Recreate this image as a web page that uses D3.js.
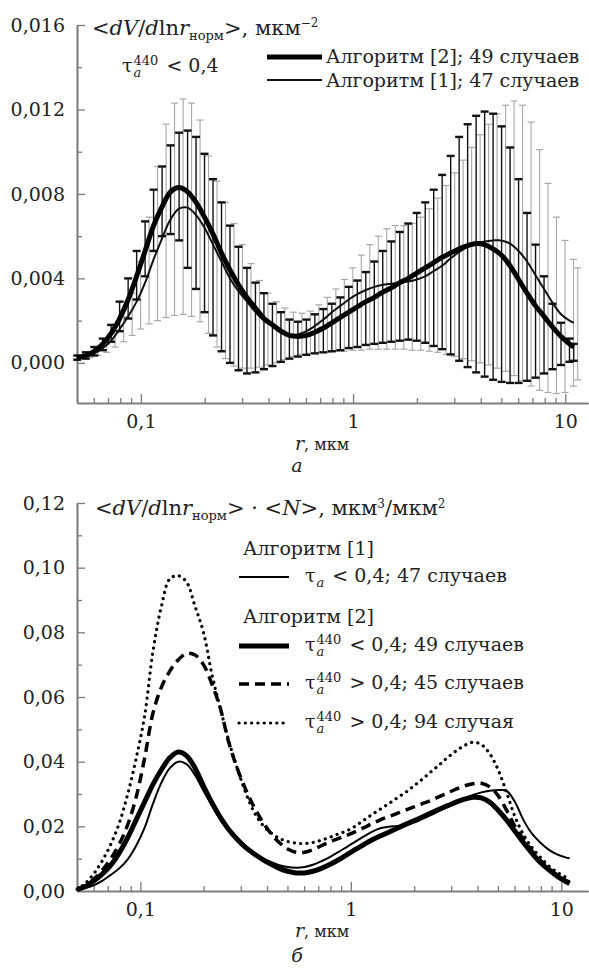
<!DOCTYPE html>
<html>
<head>
<meta charset="utf-8">
<script src="https://cdn.jsdelivr.net/npm/d3@7"></script>
<style>
  body { margin: 0; background: #fff; }
  svg text { font-family: "DejaVu Serif", serif; font-size: 19px; fill: #222; }
</style>
</head>
<body>
<script>
// size distributions, two panels, log x

// radius grid, мкм (same for every series)
var radius = [0.0501,0.0550,0.0603,0.0661,0.0724,0.0794,0.0871,0.0955,0.1047,0.1148,
  0.1259,0.1380,0.1514,0.1660,0.1820,0.1995,0.2188,0.2399,0.2630,0.2884,
  0.3162,0.3467,0.3802,0.4169,0.4571,0.5012,0.5495,0.6026,0.6607,0.7244,
  0.7943,0.8710,0.9550,1.047,1.148,1.259,1.380,1.514,1.660,1.820,
  1.995,2.188,2.399,2.630,2.884,3.162,3.467,3.802,4.169,4.571,
  5.012,5.495,6.026,6.607,7.244,7.943,8.710,9.550,10.47,10.96];

// panel a: <dV/dlnr_норм>, мкм^-2 -- mean and error bar ends
var alg2Mean = [0.00025,0.00035,0.00055,0.0009,0.0014,0.0021,0.003,0.0041,0.0053,0.0065,
  0.0074,0.0081,0.0083,0.0081,0.0076,0.0069,0.0061,0.0052,0.0044,0.0037,
  0.0031,0.0026,0.0021,0.0018,0.0015,0.0013,0.00125,0.0013,0.00145,0.00165,
  0.0019,0.00215,0.0024,0.00265,0.0029,0.0031,0.00335,0.00355,0.0038,0.004,
  0.00425,0.0045,0.00475,0.005,0.0052,0.0054,0.00555,0.00565,0.0056,0.0054,
  0.0051,0.0046,0.00395,0.0033,0.0027,0.0022,0.0017,0.00125,0.0009,0.00075];
var alg2Up = [0.00035,0.0005,0.00075,0.00115,0.0018,0.0029,0.004,0.0053,0.0067,0.0082,
  0.0093,0.0103,0.0109,0.011,0.0107,0.0099,0.0087,0.0076,0.0065,0.0055,
  0.0045,0.0038,0.0033,0.0028,0.0024,0.00205,0.00195,0.00205,0.0023,0.00255,
  0.0028,0.0031,0.0036,0.0039,0.0043,0.0048,0.0053,0.00575,0.0062,0.0066,
  0.0071,0.0076,0.0082,0.0089,0.0098,0.0107,0.0113,0.0117,0.0119,0.0118,
  0.0112,0.0102,0.0087,0.0071,0.0056,0.0041,0.0028,0.0019,0.00115,0.0009];
var alg2Low = [0.00015,0.0002,0.00035,0.0006,0.001,0.0015,0.0021,0.003,0.0041,0.0053,
  0.006,0.0061,0.0058,0.0045,0.0035,0.0024,0.0013,0.00055,0.0,-0.00035,
  -0.0005,-0.00045,-0.0003,-0.00015,0.00005,0.0002,0.0003,0.00038,0.00045,0.0005,
  0.00055,0.0006,0.0007,0.00075,0.00085,0.0009,0.00095,0.001,0.00105,0.0011,
  0.00105,0.00095,0.0008,0.00065,0.0004,0.0001,-0.0002,-0.00045,-0.00065,-0.0008,
  -0.0009,-0.00095,-0.00095,-0.00085,-0.0007,-0.0005,-0.0003,-0.0001,0.00005,0.0001];
var alg1Mean = [0.00024,0.0003,0.00045,0.0007,0.00105,0.0016,0.0022,0.0029,0.0038,0.0049,
  0.0059,0.0068,0.0073,0.00735,0.007,0.0064,0.0056,0.0048,0.004,0.0034,
  0.0029,0.0024,0.002,0.00175,0.0015,0.00135,0.00135,0.0015,0.00175,0.00205,
  0.0024,0.0027,0.003,0.00325,0.00345,0.0036,0.0037,0.00375,0.0038,0.00385,
  0.00395,0.0041,0.00435,0.0046,0.00495,0.00525,0.0055,0.00565,0.00575,0.0058,
  0.0058,0.00565,0.0053,0.0048,0.00415,0.0035,0.00285,0.0023,0.002,0.0019];
var alg1Up = [0.0003,0.0004,0.0006,0.0009,0.0014,0.0022,0.0033,0.0048,0.0069,0.0093,
  0.0113,0.0123,0.0125,0.0123,0.0115,0.0098,0.0086,0.0076,0.0066,0.0056,
  0.0047,0.0039,0.0033,0.0029,0.0026,0.0024,0.00235,0.00245,0.00275,0.0031,
  0.0035,0.00395,0.0045,0.0051,0.0056,0.006,0.00635,0.0065,0.0065,0.0066,
  0.0069,0.0073,0.0078,0.0084,0.009,0.0096,0.0102,0.0108,0.0113,0.0118,
  0.0122,0.0124,0.0122,0.0114,0.0101,0.0085,0.0069,0.0058,0.0049,0.0045];
var alg1Low = [0.0002,0.00025,0.00035,0.0005,0.00075,0.001,0.0013,0.0016,0.00185,0.002,
  0.00215,0.00225,0.0023,0.0022,0.00195,0.0014,0.00075,0.0002,-0.00015,-0.00025,
  -0.00025,-0.0002,-0.0001,0.0,0.00015,0.0003,0.0004,0.00045,0.0005,0.0005,
  0.00055,0.00055,0.0006,0.0006,0.00065,0.00065,0.00065,0.00065,0.00065,0.0006,
  0.0006,0.00055,0.0005,0.0004,0.0003,0.0002,0.0001,0.0,-0.0001,-0.00025,
  -0.0004,-0.0006,-0.00085,-0.0011,-0.0013,-0.0014,-0.00145,-0.0014,-0.0011,-0.0008];

// panel b: <dV/dlnr_норм>·<N>, мкм3/мкм2
var nAlg1 = [0.0003,0.0009,0.0018,0.0032,0.005,0.007,0.0098,0.014,0.0195,0.027,
  0.0335,0.038,0.04,0.0392,0.0358,0.031,0.0265,0.022,0.0185,0.0156,
  0.0133,0.0116,0.0102,0.009,0.008,0.0074,0.0072,0.0074,0.0081,0.0092,
  0.0105,0.012,0.0136,0.0152,0.0168,0.0183,0.0194,0.0199,0.0201,0.0205,
  0.0212,0.0223,0.0235,0.0248,0.0261,0.0274,0.0286,0.0297,0.0305,0.031,
  0.0312,0.031,0.0275,0.022,0.0178,0.015,0.0128,0.0113,0.0104,0.0101];
var nAlg2Low = [0.0005,0.0015,0.0032,0.0053,0.008,0.0118,0.0165,0.022,0.0275,0.033,
  0.0375,0.0412,0.043,0.0418,0.038,0.0325,0.0273,0.0228,0.019,0.016,
  0.0135,0.0115,0.0098,0.0083,0.007,0.0061,0.0056,0.0056,0.0061,0.007,
  0.0082,0.0096,0.0112,0.0128,0.0143,0.0158,0.017,0.0182,0.0194,0.0206,
  0.0217,0.0229,0.0241,0.0253,0.0264,0.0275,0.0284,0.029,0.0288,0.0275,
  0.025,0.022,0.0185,0.015,0.0118,0.0089,0.0066,0.0046,0.003,0.0023];
var nAlg2High45 = [0.0004,0.0015,0.0038,0.0065,0.01,0.0145,0.0205,0.029,0.041,0.055,
  0.063,0.068,0.0715,0.0735,0.073,0.07,0.064,0.0565,0.046,0.038,
  0.0315,0.026,0.0215,0.0178,0.015,0.013,0.012,0.012,0.0128,0.014,
  0.0152,0.0162,0.0172,0.0183,0.0195,0.0208,0.022,0.023,0.024,0.025,
  0.026,0.027,0.028,0.0292,0.0303,0.0315,0.0325,0.0332,0.0333,0.0322,
  0.0295,0.025,0.02,0.016,0.0125,0.0095,0.007,0.005,0.0033,0.0028];
var nAlg2High94 = [0.0005,0.0025,0.0055,0.0095,0.0145,0.021,0.03,0.041,0.054,0.074,
  0.088,0.0965,0.0975,0.0955,0.088,0.08,0.067,0.0565,0.0465,0.038,
  0.0305,0.0245,0.0205,0.018,0.0163,0.0153,0.0148,0.0147,0.015,0.0157,
  0.0166,0.0176,0.0186,0.02,0.0218,0.0236,0.0253,0.027,0.0288,0.0305,
  0.0325,0.0346,0.0368,0.039,0.0413,0.0433,0.045,0.046,0.0453,0.0425,
  0.0375,0.0305,0.023,0.0175,0.0135,0.0105,0.0078,0.0058,0.0043,0.0038];

var xTicks = [0.1, 1, 10],
    xTickLabels = ["0,1", "1", "10"];
var yTicksA = [0, 0.004, 0.008, 0.012, 0.016],
    yMinorA = [0.002, 0.006, 0.010, 0.014];
var yTicksB = [0, 0.02, 0.04, 0.06, 0.08, 0.10, 0.12],
    yMinorB = [0.01, 0.03, 0.05, 0.07, 0.09, 0.11];

var ru = d3.formatLocale({decimal: ",", thousands: "\u00a0", grouping: [3], currency: ["", ""]});
var NB = "\u00a0"; // svg eats leading plain spaces

var svg = d3.select("body").append("svg")
    .attr("width", 589)
    .attr("height", 978);

var xA = d3.scaleLog().domain([0.05, 12.8]).range([77, 588]),
    yA = d3.scaleLinear().domain([-0.0019, 0.016]).range([403, 25]);
var xB = d3.scaleLog().domain([0.05, 13.4]).range([77, 588]),
    yB = d3.scaleLinear().domain([0, 0.12]).range([891, 503]);

function axes(x, y, yMajor, yMinor, yFormat) {
  var base = y.range()[0];
  var minorX = x.ticks().filter(function(d) {
    return xTicks.indexOf(d) < 0 && d > x.domain()[0] * 1.01;
  });
  // ticks point inward, like the original
  svg.append("g").attr("color", "#7a7a7a")
      .attr("transform", "translate(0," + base + ")")
      .call(d3.axisBottom(x).tickValues(minorX).tickSize(-5).tickSizeOuter(0).tickFormat(""));
  svg.append("g").attr("color", "#7a7a7a")
      .attr("transform", "translate(0," + base + ")")
      .call(d3.axisBottom(x).tickValues(xTicks).tickSize(-9).tickSizeOuter(0).tickPadding(12)
        .tickFormat(function(d, i) { return xTickLabels[i]; }));
  svg.append("g").attr("color", "#7a7a7a")
      .attr("transform", "translate(77,0)")
      .call(d3.axisLeft(y).tickValues(yMinor).tickSize(-5).tickSizeOuter(0).tickFormat(""));
  svg.append("g").attr("color", "#7a7a7a")
      .attr("transform", "translate(77,0)")
      .call(d3.axisLeft(y).tickValues(yMajor).tickSize(-8).tickSizeOuter(0).tickPadding(12)
        .tickFormat(ru.format(yFormat)));
  svg.selectAll(".domain").attr("stroke-width", 1.6);
  svg.selectAll(".tick line").attr("stroke-width", 1.3);
}

function curve(x, y, vals) {
  return d3.line()
    .x(function(d, i) { return x(radius[i]); })
    .y(function(d) { return y(d); })
    .curve(d3.curveCatmullRom)(vals);
}

function errorBars(x, y, lo, hi, dx, color, w, capW, capH) {
  var g = svg.append("g").attr("stroke", color);
  g.selectAll("line.v").data(radius).join("line")
      .attr("x1", function(d) { return x(d) + dx; })
      .attr("x2", function(d) { return x(d) + dx; })
      .attr("y1", function(d, i) { return y(lo[i]); })
      .attr("y2", function(d, i) { return y(hi[i]); })
      .attr("stroke-width", w);
  [lo, hi].forEach(function(ends) {
    g.append("g").selectAll("line").data(radius).join("line")
        .attr("x1", function(d) { return x(d) + dx - capW / 2; })
        .attr("x2", function(d) { return x(d) + dx + capW / 2; })
        .attr("y1", function(d, i) { return y(ends[i]); })
        .attr("y2", function(d, i) { return y(ends[i]); })
        .attr("stroke-width", capH);
  });
}

// tau with sub a (and maybe sup 440), then the rest of the label
function tauLabel(x, y, sup, rest) {
  var t = svg.append("text").attr("x", x).attr("y", y).text("τ");
  var w = t.node().getComputedTextLength() + 1;
  var s1 = svg.append("text").attr("x", x + w).attr("y", y + 5)
      .style("font-size", "13px").style("font-style", "italic").text("a");
  var w2 = s1.node().getComputedTextLength();
  if (sup) {
    var s2 = svg.append("text").attr("x", x + w).attr("y", y - 7)
        .style("font-size", "13px").text(sup);
    w2 = Math.max(w2, s2.node().getComputedTextLength());
  }
  svg.append("text").attr("x", x + w + w2 + 2).attr("y", y).text(NB + rest);
}

function sizeTitle(x, y, tail) {
  var t = svg.append("text").attr("x", x).attr("y", y).style("font-size", "21px");
  t.append("tspan").text("<");
  t.append("tspan").style("font-style", "italic").text("dV");
  t.append("tspan").text("/");
  t.append("tspan").style("font-style", "italic").text("d");
  t.append("tspan").text("ln");
  t.append("tspan").style("font-style", "italic").text("r");
  t.append("tspan").attr("dy", 5).style("font-size", "13px").text("норм");
  t.append("tspan").attr("dy", -5).text(">");
  tail(t);
}

// ---------- panel a
axes(xA, yA, yTicksA, yMinorA, ".3f");

errorBars(xA, yA, alg1Low, alg1Up, 4, "#a8a8a8", 1.1, 7, 1.2);
errorBars(xA, yA, alg2Low, alg2Up, 0, "#111", 1.4, 8, 2.4);

svg.append("path").attr("d", curve(xA, yA, alg1Mean))
    .attr("fill", "none").attr("stroke", "#111").attr("stroke-width", 2);
svg.append("path").attr("d", curve(xA, yA, alg2Mean))
    .attr("fill", "none").attr("stroke", "#000").attr("stroke-width", 5);

sizeTitle(92, 35, function(t) {
  t.append("tspan").text(", мкм");
  t.append("tspan").attr("dy", -8).style("font-size", "12px").text("−2");
});

tauLabel(122, 72, "440", "< 0,4");

svg.append("line").attr("x1", 267).attr("x2", 322).attr("y1", 57).attr("y2", 57)
    .attr("stroke", "#000").attr("stroke-width", 5);
svg.append("text").attr("x", 326).attr("y", 63).text("Алгоритм [2]; 49 случаев");
svg.append("line").attr("x1", 267).attr("x2", 322).attr("y1", 80).attr("y2", 80)
    .attr("stroke", "#111").attr("stroke-width", 2);
svg.append("text").attr("x", 326).attr("y", 87).text("Алгоритм [1]; 47 случаев");

svg.append("text").attr("x", 322).attr("y", 450).attr("text-anchor", "middle")
  .call(function(t) {
    t.append("tspan").style("font-style", "italic").text("r");
    t.append("tspan").style("font-size", "16px").text(", мкм");
  });
svg.append("text").attr("x", 297).attr("y", 472).attr("text-anchor", "middle")
    .style("font-style", "italic").text("а");

// ---------- panel b
axes(xB, yB, yTicksB, yMinorB, ".2f");

var styles = [
  {vals: nAlg1, w: 2, dash: null},
  {vals: nAlg2Low, w: 5, dash: null},
  {vals: nAlg2High45, w: 3.5, dash: "10 6"},
  {vals: nAlg2High94, w: 3.2, dash: "0.1 6.2"}
];
styles.forEach(function(s) {
  svg.append("path").attr("d", curve(xB, yB, s.vals))
      .attr("fill", "none").attr("stroke", "#000")
      .attr("stroke-width", s.w)
      .attr("stroke-dasharray", s.dash)
      .attr("stroke-linecap", s.dash === "0.1 6.2" ? "round" : "butt");
});

sizeTitle(95, 515, function(t) {
  t.append("tspan").text(" · <");
  t.append("tspan").style("font-style", "italic").text("N");
  t.append("tspan").text(">, мкм");
  t.append("tspan").attr("dy", -7).style("font-size", "12px").text("3");
  t.append("tspan").attr("dy", 7).text("/мкм");
  t.append("tspan").attr("dy", -7).style("font-size", "12px").text("2");
});

svg.append("text").attr("x", 243).attr("y", 555).text("Алгоритм [1]");
svg.append("text").attr("x", 243).attr("y", 623).text("Алгоритм [2]");

var legB = [
  {y: 577, s: styles[0], sup: null, rest: "< 0,4; 47 случаев"},
  {y: 646, s: styles[1], sup: "440", rest: "< 0,4; 49 случаев"},
  {y: 684, s: styles[2], sup: "440", rest: "> 0,4; 45 случаев"},
  {y: 723, s: styles[3], sup: "440", rest: "> 0,4; 94 случая"}
];
legB.forEach(function(l) {
  svg.append("line").attr("x1", 239).attr("x2", 289).attr("y1", l.y).attr("y2", l.y)
      .attr("stroke", "#000").attr("stroke-width", l.s.w)
      .attr("stroke-dasharray", l.s.dash)
      .attr("stroke-linecap", l.s.dash === "0.1 6.2" ? "round" : "butt");
  tauLabel(305, l.y + 5, l.sup, l.rest);
});

svg.append("text").attr("x", 322).attr("y", 937).attr("text-anchor", "middle")
  .call(function(t) {
    t.append("tspan").style("font-style", "italic").text("r");
    t.append("tspan").style("font-size", "16px").text(", мкм");
  });
svg.append("text").attr("x", 297).attr("y", 962).attr("text-anchor", "middle")
    .style("font-style", "italic").text("б");
</script>
</body>
</html>
